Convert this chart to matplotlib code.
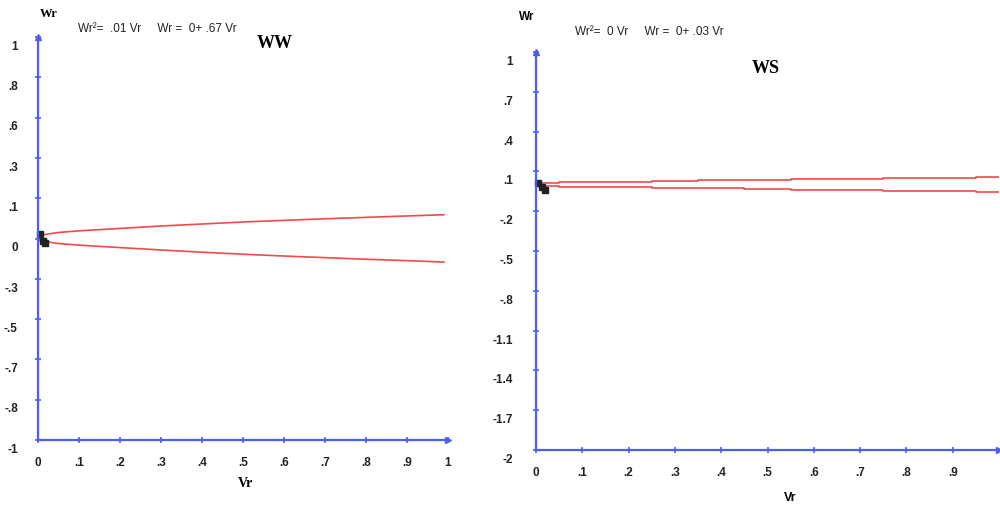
import matplotlib
matplotlib.use("Agg")
import matplotlib.pyplot as plt
import matplotlib.transforms as mtransforms

# ---- data ----
vr = [0.0, 0.05, 0.1, 0.2, 0.3, 0.4, 0.5, 0.6, 0.7, 0.8, 0.9, 0.99]
ww_upper = [0.015, 0.03, 0.038, 0.05, 0.062, 0.072, 0.082, 0.09, 0.098, 0.105, 0.112, 0.118]
ww_lower = [-0.01, -0.025, -0.033, -0.045, -0.057, -0.068, -0.078, -0.087, -0.095, -0.103, -0.11, -0.117]

vr_ws = [0.0, 0.1, 0.2, 0.3, 0.4, 0.5, 0.6, 0.7, 0.8, 0.9, 1.0]
ws_upper = [0.012, 0.018, 0.022, 0.027, 0.032, 0.037, 0.041, 0.045, 0.05, 0.054, 0.058]
ws_lower = [-0.008, -0.014, -0.019, -0.023, -0.028, -0.032, -0.037, -0.041, -0.046, -0.05, -0.055]

pts_ww_x = [0.005, 0.012, 0.018]
pts_ww_y = [0.02, -0.01, -0.02]
pts_ws_x = [0.005, 0.012, 0.02]
pts_ws_y = [0.01, -0.02, -0.04]

ww_yticks = [1, 0.8, 0.6, 0.4, 0.2, 0, -0.2, -0.4, -0.6, -0.8, -1]
ww_ylabels = ['1', '.8', '.6', '.3', '.1', '0', '-.3', '-.5', '-.7', '-.8', '-1']
ww_xticks = [0, .1, .2, .3, .4, .5, .6, .7, .8, .9, 1]
ww_xlabels = ['0', '.1', '.2', '.3', '.4', '.5', '.6', '.7', '.8', '.9', '1']

ws_yticks = [1, 0.7, 0.4, 0.1, -0.2, -0.5, -0.8, -1.1, -1.4, -1.7, -2]
ws_ylabels = ['1', '.7', '.4', '.1', '-.2', '-.5', '-.8', '-1.1', '-1.4', '-1.7', '-2']
ws_xticks = [0, .1, .2, .3, .4, .5, .6, .7, .8, .9]
ws_xlabels = ['0', '.1', '.2', '.3', '.4', '.5', '.6', '.7', '.8', '.9']

blue = '#4f5ef0'
red = '#f04a4a'
sans = 'Liberation Sans'
serif = 'Liberation Serif'

fig = plt.figure(figsize=(10, 5.08), dpi=100)
fig.patch.set_facecolor('w')


def style(ax, ymin, ymax, yt, yl, xt, xl, ypad):
    ax.set_xlim(0, 1)
    ax.set_ylim(ymin, ymax)
    for s in ['top', 'right']:
        ax.spines[s].set_visible(False)
    for s in ['left', 'bottom']:
        ax.spines[s].set_color(blue)
        ax.spines[s].set_linewidth(1.6)
    ax.set_yticks(yt)
    ax.set_yticklabels(yl)
    ax.set_xticks(xt)
    ax.set_xticklabels(xl)
    ax.tick_params(direction='inout', length=5, width=1.2, color=blue,
                   labelsize=8.5, labelcolor='#222222')
    ax.tick_params(axis='y', pad=ypad)
    ax.tick_params(axis='x', pad=10)
    shift = mtransforms.ScaledTranslation(0, -6 / 72, fig.dpi_scale_trans)
    for t in ax.get_yticklabels():
        t.set_fontfamily(sans)
        t.set_fontweight('bold')
        t.set_transform(t.get_transform() + shift)
    for t in ax.get_xticklabels():
        t.set_fontfamily(sans)
        t.set_fontweight('bold')
    # arrow heads
    ax.plot([0], [ymax], marker='^', color=blue, ms=5, clip_on=False)
    ax.plot([1], [ymin], marker='>', color=blue, ms=5, clip_on=False)


# ---- left panel: WW ----
ax1 = fig.add_axes([0.038, 0.134, 0.41, 0.793])
style(ax1, -1, 1, ww_yticks, ww_ylabels, ww_xticks, ww_xlabels, 12)
ax1.plot(vr, ww_upper, color=red, lw=1.2)
ax1.plot(vr, ww_lower, color=red, lw=1.2)
ax1.plot(pts_ww_x, pts_ww_y, 's', color='#222222', ms=4, clip_on=False)
fig.text(0.040, 0.972, 'Wr', fontfamily=serif, fontweight='bold', fontsize=9, ha='left', va='center')
fig.text(0.078, 0.943, 'Wr\u00b2=  .01 Vr     Wr =  0+ .67 Vr', fontfamily=sans,
         fontsize=8.5, ha='left', va='center', color='#222222')
fig.text(0.275, 0.915, 'WW', fontfamily=serif, fontweight='bold', fontsize=13, ha='center', va='center')
fig.text(0.245, 0.048, 'Vr', fontfamily=serif, fontweight='bold', fontsize=10, ha='center', va='center')

# ---- right panel: WS ----
ax2 = fig.add_axes([0.536, 0.114, 0.463, 0.7835])
style(ax2, -2, 1, ws_yticks, ws_ylabels, ws_xticks, ws_xlabels, 14)
ax2.plot(vr_ws, ws_upper, color=red, lw=1.2, drawstyle='steps-mid')
ax2.plot(vr_ws, ws_lower, color=red, lw=1.2, drawstyle='steps-mid')
ax2.plot(pts_ws_x, pts_ws_y, 's', color='#222222', ms=4, clip_on=False)
fig.text(0.519, 0.966, 'Wr', fontfamily=sans, fontweight='bold', fontsize=8.5, ha='left', va='center')
fig.text(0.575, 0.937, 'Wr\u00b2=  0 Vr     Wr =  0+ .03 Vr', fontfamily=sans,
         fontsize=8.5, ha='left', va='center', color='#222222')
fig.text(0.766, 0.866, 'WS', fontfamily=serif, fontweight='bold', fontsize=13, ha='center', va='center')
fig.text(0.79, 0.02, 'Vr', fontfamily=sans, fontweight='bold', fontsize=9, ha='center', va='center')

fig.savefig('out.png', dpi=100, facecolor='w')
